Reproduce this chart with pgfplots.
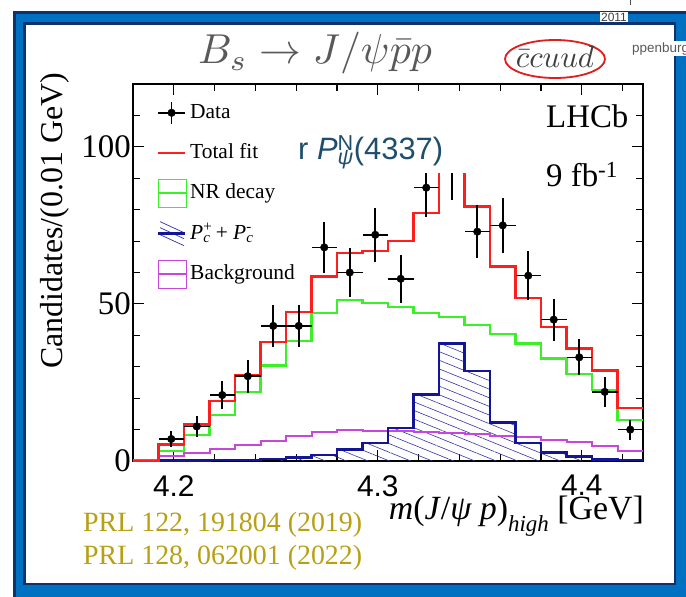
\documentclass[border=0pt]{standalone}
\usepackage{fontspec}
\setmainfont{Liberation Serif}
\newfontfamily\arialfont{Liberation Sans}
\usepackage{graphicx}
\usepackage{pgfplots}
\pgfplotsset{compat=1.18}
\usetikzlibrary{patterns.meta}

\definecolor{fitred}{RGB}{255,30,30}
\definecolor{nrgreen}{RGB}{60,240,40}
\definecolor{bkgmag}{RGB}{200,70,220}
\definecolor{pcnavy}{RGB}{20,20,150}
\definecolor{hatchblue}{RGB}{50,50,170}
\definecolor{framenavy}{RGB}{16,48,110}
\definecolor{frameblue}{RGB}{0,112,192}
\definecolor{titlegray}{RGB}{89,89,89}
\definecolor{citegold}{RGB}{184,160,20}
\definecolor{overlayteal}{RGB}{30,78,110}
\definecolor{ellred}{RGB}{225,30,30}

\newcommand{\Pcs}[1]{\textit{P}\rlap{\textsuperscript{#1}}\textsubscript{\textit{c}}}

\begin{document}
\begin{tikzpicture}
\useasboundingbox (0,0) rectangle (686bp,-597bp);
\clip (0,0) rectangle (686bp,-597bp);
\begin{scope}[x=1bp,y=-1bp]
  \fill[white] (0,0) rectangle (686,597);
  \fill[framenavy] (13,11) rectangle (700,610);
  \fill[frameblue] (15.5,13.5) rectangle (697.5,607.5);
  \fill[framenavy] (23,22) rectangle (676,585);
  \fill[white] (25.5,24.5) rectangle (673.5,582.5);
  % top decorations
  \node[anchor=base, fill=white, inner sep=1bp, text=black!75, font=\arialfont\fontsize{12}{12}\selectfont] at (614,21) {2011};
  \draw[black!70, line width=0.8bp] (630,0) -- (630,5);
  \node[anchor=base west, fill=white, inner sep=1bp, text=black!65, font=\arialfont\fontsize{13.5}{13.5}\selectfont] at (631,52) {ppenburg};
  \node[anchor=base, inner sep=0pt, text=titlegray] at (315,64) {\scalebox{4.2}{$B_s \rightarrow J/\psi\bar{p}p$}};
  \draw[ellred, line width=1.8bp] (555,59) ellipse [x radius=50, y radius=19];
  \node[anchor=base, inner sep=0pt, text=black!75] at (555,68) {\scalebox{3.1}{$\bar{c}cuud$}};
\end{scope}

\begin{axis}[
  at={(133bp,-461bp)}, anchor=south west,
  scale only axis, width=510bp, height=377bp,
  xmin=4.18, xmax=4.43, ymin=0, ymax=120,
  axis line style={line width=1.3bp},
  xtick={4.2,4.3,4.4}, xticklabels={4.2,4.3,4.4},
  minor xtick={4.22,4.24,4.26,4.28,4.32,4.34,4.36,4.38,4.42},
  ytick={0,50,100}, yticklabels={0,50,100},
  minor ytick={10,20,30,40,60,70,80,90,110},
  xtick pos=both, ytick pos=both,
  tick align=inside,
  major tick length=11bp, minor tick length=7bp,
  tick style={black, line width=1.1bp},
  xticklabel style={font=\arialfont\fontsize{30}{30}\selectfont, inner sep=1bp, yshift=-13bp},
  yticklabel style={font=\fontsize{33}{33}\selectfont, inner sep=1bp, xshift=-1bp},
  legend style={at={(axis cs:4.1917,115.3)}, anchor=north west, draw=none, fill=none,
    inner sep=0pt, outer sep=0pt, row sep=12bp, column sep=3bp,
    font=\fontsize{21.5}{21.5}\selectfont,
    nodes={inner sep=0pt, text height=16bp, text depth=5bp, anchor=west}},
  legend cell align=left,
]
% P_c hatched area
\addplot[const plot, draw=none, pattern={Lines[angle=-22,distance=8bp,line width=0.6bp]}, pattern color=hatchblue, forget plot]
coordinates {(4.18,0) (4.1925,0.1) (4.205,0.2) (4.2175,0.3) (4.23,0.4) (4.2425,0.6) (4.255,1.1) (4.2675,1.9) (4.28,3.7) (4.2925,5.7) (4.305,10.5) (4.3175,21.2) (4.33,37.4) (4.3425,28.6) (4.355,12.3) (4.3675,5.7) (4.38,2.7) (4.3925,1.4) (4.405,0.5) (4.4175,0.3) (4.43,0.3)} \closedcycle;
% Background
\addplot[const plot, bkgmag, line width=2bp, forget plot]
coordinates {(4.18,0.3) (4.1925,1.5) (4.205,2.4) (4.2175,3.8) (4.23,5.1) (4.2425,6.4) (4.255,8.0) (4.2675,9.1) (4.28,9.9) (4.2925,9.6) (4.305,9.4) (4.3175,9.1) (4.33,8.8) (4.3425,8.5) (4.355,8.0) (4.3675,7.5) (4.38,6.6) (4.3925,5.9) (4.405,4.8) (4.4175,3.2) (4.43,3.2)};
% P_c line
\addplot[const plot, pcnavy, line width=2.4bp, forget plot]
coordinates {(4.18,0) (4.1925,0.1) (4.205,0.2) (4.2175,0.3) (4.23,0.4) (4.2425,0.6) (4.255,1.1) (4.2675,1.9) (4.28,3.7) (4.2925,5.7) (4.305,10.5) (4.3175,21.2) (4.33,37.4) (4.3425,28.6) (4.355,12.3) (4.3675,5.7) (4.38,2.7) (4.3925,1.4) (4.405,0.5) (4.4175,0.3) (4.43,0.3)};
% NR decay
\addplot[const plot, nrgreen, line width=2.3bp, forget plot]
coordinates {(4.18,0) (4.1925,3.2) (4.205,8.3) (4.2175,14.7) (4.23,21.9) (4.2425,30.4) (4.255,38.1) (4.2675,47.0) (4.28,51.3) (4.2925,50.2) (4.305,49.1) (4.3175,47.0) (4.33,45.9) (4.3425,43.3) (4.355,40.4) (4.3675,37.4) (4.38,32.6) (4.3925,27.6) (4.405,22.6) (4.4175,13.0) (4.43,13.0)};
% Total fit
\addplot[const plot, fitred, line width=2.3bp, forget plot]
coordinates {(4.18,0) (4.1925,5.3) (4.205,11.6) (4.2175,19.0) (4.23,27.2) (4.2425,37.9) (4.255,47.4) (4.2675,58.7) (4.28,66.3) (4.2925,66.9) (4.305,70.1) (4.3175,78.9) (4.33,95.0) (4.3425,81.0) (4.355,61.9) (4.3675,51.8) (4.38,42.7) (4.3925,35.8) (4.405,28.8) (4.4175,16.9) (4.43,16.9)};
% Data
\addplot[only marks, mark=*, mark size=3.8bp, black, mark options={fill=black}, forget plot,
  error bars/.cd, x dir=both, x explicit, y dir=both, y explicit,
  error bar style={line width=1.6bp, black}, error mark=none]
table[x=x, y=y, x error=ex, y error=ey] {
x        y     ex       ey
4.19875  7     0.00625  2.6
4.21125  11    0.00625  3.3
4.22375  21    0.00625  4.6
4.23625  27    0.00625  5.2
4.24875  43    0.00625  6.6
4.26125  43    0.00625  6.6
4.27375  68    0.00625  8.2
4.28625  60    0.00625  7.7
4.29875  72    0.00625  8.5
4.31125  58    0.00625  7.6
4.32375  87    0.00625  9.3
4.33625  93.5  0.00625  10.5
4.34875  73    0.00625  8.5
4.36125  75    0.00625  8.7
4.37375  59    0.00625  7.7
4.38625  45    0.00625  6.7
4.39875  33    0.00625  5.7
4.41125  22    0.00625  4.7
4.42375  10    0.00625  3.2
};
% legend
\addlegendimage{legend image code/.code={
  \path[draw=none,fill=none] (0bp,-14bp) rectangle (28bp,14bp);
  \draw[black, line width=1.6bp] (0bp,0bp) -- (27bp,0bp);
  \draw[black, line width=1.6bp] (13.5bp,-11bp) -- (13.5bp,11bp);
  \fill[black] (13.5bp,0bp) circle (3.8bp);}}
\addlegendentry{Data}
\addlegendimage{legend image code/.code={
  \path[draw=none,fill=none] (0bp,-14bp) rectangle (28bp,14bp);
  \draw[fitred, line width=2.3bp] (0bp,0bp) -- (27bp,0bp);}}
\addlegendentry{Total fit}
\addlegendimage{legend image code/.code={
  \draw[nrgreen, fill=none, line width=0.9bp] (0.5bp,-14bp) rectangle (28bp,14bp);
  \draw[nrgreen, line width=2.3bp] (0.5bp,0bp) -- (28bp,0bp);}}
\addlegendentry{NR decay}
\addlegendimage{legend image code/.code={
  \path[draw=none,fill=none] (0bp,-14bp) rectangle (28bp,14bp);
  \draw[hatchblue, line width=0.7bp] (2bp,12bp) -- (26bp,1bp);
  \draw[hatchblue, line width=0.7bp] (2bp,6bp) -- (26bp,-5bp);
  \draw[hatchblue, line width=0.7bp] (2bp,-1bp) -- (26bp,-12bp);
  \draw[pcnavy, line width=2.4bp] (0bp,0bp) -- (27bp,0bp);}}
\addlegendentry{\Pcs{+}\ + \Pcs{-}}
\addlegendimage{legend image code/.code={
  \draw[bkgmag, fill=none, line width=0.9bp] (0.5bp,-14bp) rectangle (28bp,14bp);
  \draw[bkgmag, line width=2bp] (0.5bp,0bp) -- (28bp,0bp);}}
\addlegendentry{Background}
\end{axis}

\begin{scope}[x=1bp,y=-1bp]
  % overlay box with text
  \fill[white] (262,118) rectangle (467,173);
  \node[anchor=base west, inner sep=0pt, text=overlayteal, font=\arialfont\fontsize{31}{31}\selectfont] at (298,159)
    {r \textit{P}\rlap{\textsuperscript{N}}\textsubscript{\textit{ψ}}(4337)};
  % LHCb labels
  \node[anchor=base west, inner sep=0pt, font=\fontsize{33}{33}\selectfont] at (546,127) {LHCb};
  \node[anchor=base west, inner sep=0pt, font=\fontsize{33}{33}\selectfont] at (546,186) {9 fb\textsuperscript{-1}};
  % axis titles
  \node[rotate=90, inner sep=0pt, font=\fontsize{32}{32}\selectfont] at (55,221) {Candidates/(0.01 GeV)};
  \node[anchor=base east, inner sep=0pt, font=\fontsize{34}{40}\selectfont] at (644,519)
    {\textit{m}(\textit{J}/\textit{ψ p})\raisebox{-12bp}{\fontsize{23}{23}\selectfont\textit{high}} [GeV]};
  % references
  \node[anchor=base west, inner sep=0pt, text=citegold, font=\fontsize{28}{28}\selectfont] at (83,531) {PRL 122, 191804 (2019)};
  \node[anchor=base west, inner sep=0pt, text=citegold, font=\fontsize{28}{28}\selectfont] at (83,564) {PRL 128, 062001 (2022)};
\end{scope}
\end{tikzpicture}
\end{document}
